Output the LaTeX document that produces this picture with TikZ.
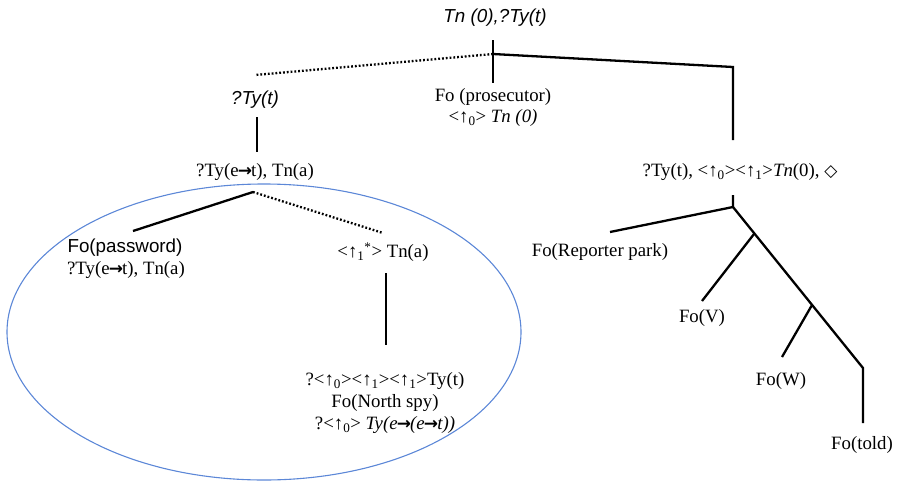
\documentclass[tikz,border=0pt]{standalone}
\usepackage{fontspec}
\setmainfont{Liberation Serif}
\setsansfont{Liberation Sans}
\newfontfamily\dvfont{DejaVu Sans}
\newcommand{\up}[1]{↑\textsubscript{#1}}
\newcommand{\ar}{{\dvfont\bfseries\fontsize{17}{18}\selectfont\kern-0.05em→\kern-0.05em}}
\begin{document}
\begin{tikzpicture}[x=1pt,y=-1pt,
  lbl/.style={inner sep=0pt,font=\fontsize{18.8}{22}\selectfont,align=center},
  edge/.style={line width=2.3pt},
  dotedge/.style={line width=2.3pt,dash pattern=on 1.8pt off 2pt}]
\useasboundingbox (0,0) rectangle (897,488);
\definecolor{ellblue}{RGB}{92,135,215}
% ellipse
\draw[ellblue,line width=1.1pt] (264,332) ellipse [x radius=257, y radius=148];
% labels
\node[lbl,font=\fontsize{18.8}{22}\selectfont\sffamily\itshape] (top) at (495,18) {Tn (0),?Ty(t)};
\node[lbl,font=\fontsize{18.8}{22}\selectfont\sffamily\itshape] (tyt) at (255,100) {?Ty(t)};
\node[lbl] (pros) at (493,97) {Fo (prosecutor)};
\node[lbl] (pros2) at (493,118) {<\up{0}> \textit{Tn (0)}};
\node[lbl] (tyet) at (255,172) {?Ty(e\ar t), Tn(a)};
\node[lbl] (right) at (740,172) {?Ty(t), <\up{0}><\up{1}>\textit{Tn}(0), {\dvfont\fontsize{17}{18}\selectfont ◇}};
\node[lbl,font=\fontsize{18.8}{22}\selectfont\sffamily] (pw) at (125,248) {Fo(password)};
\node[lbl] (pw2) at (126,270) {?Ty(e\ar t), Tn(a)};
\node[lbl] (star) at (383,252) {<↑\textsubscript{1}\textsuperscript{*}> Tn(a)};
\node[lbl] (ns1) at (385,381) {?<\up{0}><\up{1}><\up{1}>Ty(t)};
\node[lbl] (ns2) at (385,403) {Fo(North spy)};
\node[lbl] (ns3) at (385,425) {?<\up{0}> \textit{Ty(e\ar(e\ar t))}};
\node[lbl] (rp) at (600,252) {Fo(Reporter park)};
\node[lbl] (fv) at (702,318) {Fo(V)};
\node[lbl] (fw) at (781,381) {Fo(W)};
\node[lbl] (ft) at (862,445) {Fo(told)};
% coordinates
\coordinate (rt) at (493,40);
\coordinate (r) at (493,54);
\coordinate (rb) at (493,83);
\coordinate (ld) at (255,75);
\coordinate (rr) at (733,67);
\coordinate (rrb) at (733,140);
\coordinate (lt) at (257,117);
\coordinate (lb) at (257,152);
\coordinate (lm) at (253,192);
\coordinate (pwt) at (133,231);
\coordinate (stt) at (383,233);
\coordinate (sv1) at (386,273);
\coordinate (sv2) at (386,345);
\coordinate (rvt) at (733,195);
\coordinate (rv) at (733,207);
\coordinate (rpt) at (610,232);
\coordinate (b1) at (754,234);
\coordinate (fvt) at (702,301);
\coordinate (b2) at (812,305);
\coordinate (fwt) at (782,357);
\coordinate (d) at (863,368);
\coordinate (ftt) at (863,423);
% edges
\draw[edge] (rt) -- (rb);
\draw[dotedge] (r) -- (ld);
\draw[edge] (r) -- (rr) -- (rrb);
\draw[edge] (lt) -- (lb);
\draw[edge] (lm) -- (pwt);
\draw[dotedge] (lm) -- (stt);
\draw[edge] (sv1) -- (sv2);
\draw[edge] (rvt) -- (rv) -- (rpt);
\draw[edge] (rv) -- (d) -- (ftt);
\draw[edge] (b1) -- (fvt);
\draw[edge] (b2) -- (fwt);
\end{tikzpicture}
\end{document}
